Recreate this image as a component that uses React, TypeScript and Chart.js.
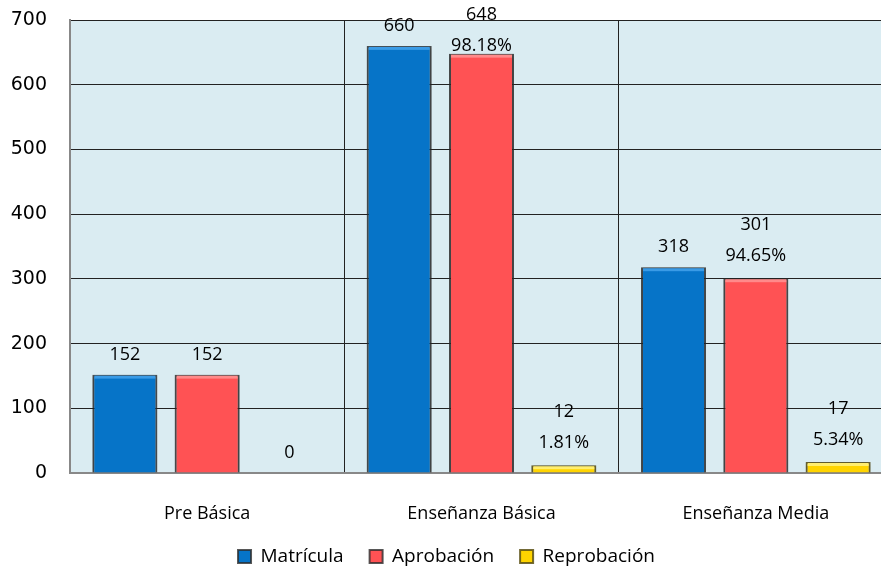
import React, { useEffect, useRef } from "react";
import { Chart, registerables } from "chart.js";

Chart.register(...registerables);

const categories = ["Pre Básica", "Enseñanza Básica", "Enseñanza Media"];
const matricula = [152, 660, 318];
const aprobacion = [152, 648, 301];
const reprobacion = [0, 12, 17];
const aprobacionPct = ["", "98.18%", "94.65%"];
const reprobacionPct = ["", "1.81%", "5.34%"];
const yTicks = [0, 100, 200, 300, 400, 500, 600, 700];

const fills = ["#0674C8", "#FF5254", "#FFD400"];
const highlights = ["#3A9BE6", "#FF8A8A", "#FFEE70"];

const LABEL_FONT = "'Comic Sans MS', 'Open Sans', sans-serif";

const bgPlugin = {
  id: "plotBg",
  beforeDraw(chart: any) {
    const { ctx, chartArea } = chart;
    ctx.save();
    ctx.fillStyle = "#DAECF2";
    ctx.fillRect(chartArea.left, chartArea.top, chartArea.right - chartArea.left, chartArea.bottom - chartArea.top);
    ctx.restore();
  },
};

const shadowPlugin = {
  id: "barShadow",
  beforeDatasetsDraw(chart: any) {
    const { ctx } = chart;
    ctx.save();
    ctx.shadowColor = "rgba(0,0,0,0.35)";
    ctx.shadowBlur = 4;
    ctx.shadowOffsetX = 0;
    ctx.shadowOffsetY = 0;
  },
  afterDatasetsDraw(chart: any) {
    const { ctx } = chart;
    ctx.restore();
    ctx.save();
    chart.data.datasets.forEach((ds: any, di: number) => {
      const meta = chart.getDatasetMeta(di);
      meta.data.forEach((el: any) => {
        const h = el.base - el.y;
        if (h < 4) return;
        ctx.fillStyle = highlights[di];
        ctx.fillRect(el.x - el.width / 2 + 2, el.y + 1, el.width - 4, 3);
      });
    });
    ctx.restore();
  },
};

const labelPlugin = {
  id: "barLabels",
  afterDatasetsDraw(chart: any) {
    const { ctx } = chart;
    const pcts = [null, aprobacionPct, reprobacionPct];
    ctx.save();
    ctx.font = `18px ${LABEL_FONT}`;
    ctx.fillStyle = "#000";
    ctx.textAlign = "center";
    ctx.textBaseline = "middle";
    chart.data.datasets.forEach((ds: any, di: number) => {
      const meta = chart.getDatasetMeta(di);
      meta.data.forEach((el: any, i: number) => {
        const lines = [String(ds.data[i])];
        const p = pcts[di];
        if (p && p[i]) lines.push(p[i]);
        const spacing = 31;
        let last = el.y - (lines.length > 1 ? 22 : 20);
        let first = last - spacing * (lines.length - 1);
        if (first < 15) {
          const d = 15 - first;
          first += d;
          last += d;
        }
        lines.forEach((t, k) => ctx.fillText(t, el.x, first + k * spacing));
      });
    });
    ctx.restore();
  },
};

export default function App() {
  const ref = useRef<HTMLCanvasElement | null>(null);
  useEffect(() => {
    document.documentElement.style.overflow = "hidden";
    document.body.style.overflow = "hidden";
    const border = "rgba(45,45,45,0.8)";
    const chart = new Chart(ref.current as HTMLCanvasElement, {
      type: "bar",
      data: {
        labels: categories,
        datasets: [
          { label: "Matrícula", data: matricula, backgroundColor: fills[0], borderColor: border, borderWidth: 2 },
          { label: "Aprobación", data: aprobacion, backgroundColor: fills[1], borderColor: border, borderWidth: 2 },
          { label: "Reprobación", data: reprobacion, backgroundColor: fills[2], borderColor: "rgba(90,80,20,0.85)", borderWidth: 2 },
        ],
      },
      options: {
        responsive: false,
        animation: false,
        layout: { padding: { top: 20, right: 2, left: 0, bottom: -4 } },
        datasets: { bar: { categoryPercentage: 0.9, barPercentage: 0.79 } },
        plugins: {
          tooltip: { enabled: false },
          legend: {
            position: "bottom",
            labels: {
              boxWidth: 13,
              boxHeight: 13,
              padding: 26,
              color: "#000",
              font: { family: LABEL_FONT, size: 19 },
            },
          },
        },
        scales: {
          x: {
            grid: { color: "#222", lineWidth: 1, drawTicks: false, offset: true },
            border: { color: "#888", width: 2 },
            ticks: { color: "#000", padding: 30, font: { family: LABEL_FONT, size: 18 } },
            afterFit: (s: any) => { s.height = 48; },
          },
          y: {
            min: 0,
            max: 700,
            afterBuildTicks: (s: any) => { s.ticks = yTicks.map((v) => ({ value: v })); },
            grid: { color: "#222", lineWidth: 1, drawTicks: true, tickLength: 23, tickColor: "rgba(0,0,0,0)" },
            border: { color: "#888", width: 2 },
            ticks: { color: "#000", padding: 0, font: { family: "'DejaVu Sans', sans-serif", size: 19 } },
            afterFit: (s: any) => { s.width = 70; },
          },
        },
      },
      plugins: [bgPlugin, shadowPlugin, labelPlugin],
    } as any);
    return () => chart.destroy();
  }, []);
  return (
    <div style={{ position: "absolute", left: 0, top: 0, width: 895, height: 572 }}>
      <canvas ref={ref} width={895} height={572} />
    </div>
  );
}
